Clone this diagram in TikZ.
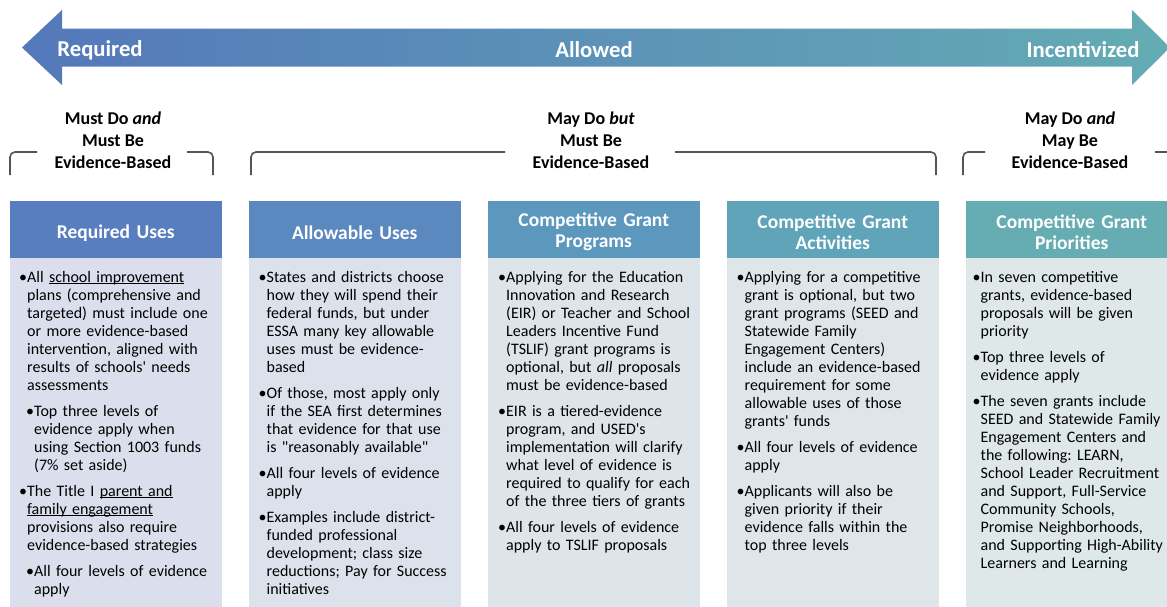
\documentclass[tikz,border=0pt]{standalone}
\usepackage{fontspec}
\setmainfont{Carlito}
\usetikzlibrary{positioning}
\frenchspacing
\definecolor{arrowleft}{RGB}{84,120,186}
\definecolor{arrowmid}{RGB}{92,143,186}
\definecolor{arrowright}{RGB}{100,172,180}
\definecolor{hdrcolor1}{RGB}{88,126,192}
\definecolor{hdrcolor2}{RGB}{90,136,191}
\definecolor{hdrcolor3}{RGB}{92,151,190}
\definecolor{hdrcolor4}{RGB}{96,164,185}
\definecolor{hdrcolor5}{RGB}{102,173,179}
\definecolor{bodycolor1}{RGB}{219,223,237}
\definecolor{bodycolor2}{RGB}{220,226,236}
\definecolor{bodycolor3}{RGB}{221,228,234}
\definecolor{bodycolor4}{RGB}{222,230,234}
\definecolor{bodycolor5}{RGB}{223,232,232}
\definecolor{bracketgray}{RGB}{85,85,85}
\newcommand{\undl}[1]{{\setbox0\hbox{#1}\rlap{\rule[-2pt]{\wd0}{0.8pt}}\box0}}
\newcommand{\bitem}[1]{\par\setbox0\hbox{\textbullet}\hangindent=\wd0\hangafter=1\noindent\textbullet#1\par}
\newcommand{\bsubitem}[1]{\par{\leftskip=7pt\setbox0\hbox{\textbullet}\hangindent=\wd0\hangafter=1\noindent\textbullet#1\par}}
\tikzset{hdrtext/.style={text=white, font=\bfseries\fontsize{19.5}{21}\selectfont,
         inner sep=0pt, text width=205pt, align=center},
         bodytext/.style={anchor=north west, inner sep=0pt, text width=205pt, align=left,
         font=\fontsize{16}{18}\selectfont, text=black,
         execute at begin node={\setlength{\parskip}{8pt}}},
         arrowlabel/.style={text=white, font=\bfseries\fontsize{22.7}{26}\selectfont},
         bracketlabel/.style={align=center, font=\bfseries\fontsize{18}{22}\selectfont},
         bracketline/.style={draw=bracketgray, line width=1.6pt, rounded corners=5pt}}

\begin{document}
\begin{tikzpicture}[x=1pt,y=-1pt]
\useasboundingbox (0,0) rectangle (1167,606);

\shade [left color=arrowleft, middle color=arrowmid, right color=arrowright]
(22,47.5) -- (62,10) -- (62,28.5) -- (1132,28.5) -- (1132,10) -- (1170,47.5)
-- (1132,85) -- (1132,66.5) -- (62,66.5) -- (62,85) -- cycle;
\node [arrowlabel] (required) at (100,50) {Required};
\node [arrowlabel] (allowed) at (594,50) {Allowed};
\node [arrowlabel] (incentivized) at (1083,50) {Incentivized};

\node [bracketlabel] (mustdo) at (113,140) {Must Do \textit{and}\\Must Be\\Evidence-Based};
\node [bracketlabel] (maydobut) at (591,140) {May Do \textit{but}\\Must Be\\Evidence-Based};
\node [bracketlabel] (maydoand) at (1070,140) {May Do \textit{and}\\May Be\\Evidence-Based};
\draw [bracketline] (10,175) -- (10,152) -- (37,152);
\draw [bracketline] (187,152) -- (213,152) -- (213,175);
\draw [bracketline] (251,175) -- (251,152) -- (505,152);
\draw [bracketline] (675,152) -- (936,152) -- (936,175);
\draw [bracketline] (963,175) -- (963,152) -- (985,152);
\draw [bracketline] (1155,152) -- (1175,152);

\fill [hdrcolor1] (9.5,201) rectangle (222,258);
\fill [hdrcolor2] (248.5,201) rectangle (461,258);
\fill [hdrcolor3] (487.5,201) rectangle (700,258);
\fill [hdrcolor4] (726.5,201) rectangle (939,258);
\fill [hdrcolor5] (965.5,201) rectangle (1178,258);
\fill [bodycolor1] (9.5,258) rectangle (222,610);
\fill [bodycolor2] (248.5,258) rectangle (461,610);
\fill [bodycolor3] (487.5,258) rectangle (700,610);
\fill [bodycolor4] (726.5,258) rectangle (939,610);
\fill [bodycolor5] (965.5,258) rectangle (1178,610);

\node [hdrtext] (reqhdr) at (115.75,233) {Required Uses};
\node [hdrtext] (allowhdr) at (354.75,233) {Allowable Uses};
\node [hdrtext] (proghdr) at (593.75,232) {Competitive Grant\\Programs};
\node [hdrtext] (acthdr) at (832.75,232) {Competitive Grant\\Activities};
\node [hdrtext] (prihdr) at (1071.75,232) {Competitive Grant\\Priorities};

\node [bodytext] (reqtext) at (19,256) {%
\bitem{All \undl{school improvement}\newline plans (comprehensive and\newline targeted) must include one\newline or more evidence-based\newline intervention, aligned with\newline results of schools\textquotesingle{} needs\newline assessments}
\bsubitem{Top three levels of\newline evidence apply when\newline using Section 1003 funds\newline (7\% set aside)}
\bitem{The Title I \undl{parent and}\newline \undl{family engagement}\newline provisions also require\newline evidence-based strategies}
\bsubitem{All four levels of evidence\newline apply}};

\node [bodytext] (allowtext) at (258.5,256) {%
\bitem{States and districts choose\newline how they will spend their\newline federal funds, but under\newline ESSA many key allowable\newline uses must be evidence-\newline based}
\bitem{Of those, most apply only\newline if the SEA first determines\newline that evidence for that use\newline is \textquotedbl reasonably available\textquotedbl}
\bitem{All four levels of evidence\newline apply}
\bitem{Examples include district-\newline funded professional\newline development; class size\newline reductions; Pay for Success\newline initiatives}};

\node [bodytext] (progtext) at (498,256) {%
\bitem{Applying for the Education\newline Innovation and Research\newline (EIR) or Teacher and School\newline Leaders Incentive Fund\newline (TSLIF) grant programs is\newline optional, but \textit{all} proposals\newline must be evidence-based}
\bitem{EIR is a tiered-evidence\newline program, and USED\textquotesingle s\newline implementation will clarify\newline what level of evidence is\newline required to qualify for each\newline of the three tiers of grants}
\bitem{All four levels of evidence\newline apply to TSLIF proposals}};

\node [bodytext] (acttext) at (736.5,256) {%
\bitem{Applying for a competitive\newline grant is optional, but two\newline grant programs (SEED and\newline Statewide Family\newline Engagement Centers)\newline include an evidence-based\newline requirement for some\newline allowable uses of those\newline grants\textquotesingle{} funds}
\bitem{All four levels of evidence\newline apply}
\bitem{Applicants will also be\newline given priority if their\newline evidence falls within the\newline top three levels}};

\node [bodytext] (pritext) at (972.5,256) {%
\bitem{In seven competitive\newline grants, evidence-based\newline proposals will be given\newline priority}
\bitem{Top three levels of\newline evidence apply}
\bitem{The seven grants include\newline SEED and Statewide Family\newline Engagement Centers and\newline the following: LEARN,\newline School Leader Recruitment\newline and Support, Full-Service\newline Community Schools,\newline Promise Neighborhoods,\newline and Supporting High-Ability\newline Learners and Learning}};
\end{tikzpicture}
\end{document}
